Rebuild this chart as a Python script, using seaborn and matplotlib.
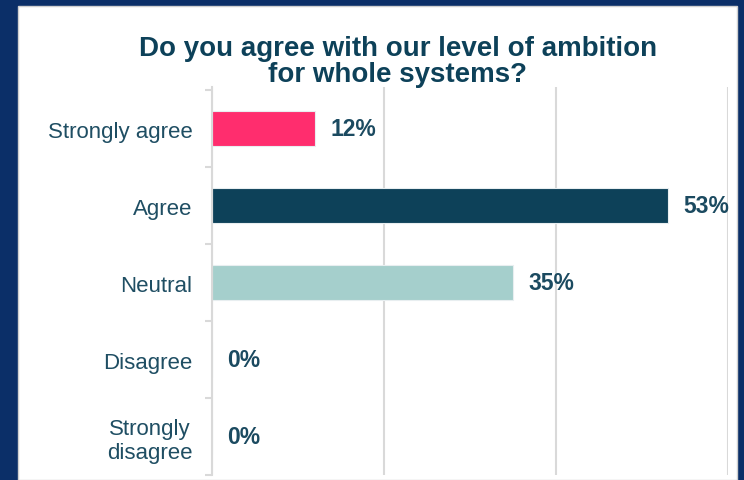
"""Survey response: agreement with level of ambition for whole systems."""

import matplotlib.pyplot as plt
import matplotlib.patches as mpatches
import pandas as pd
import seaborn as sns

categories = ["Strongly agree", "Agree", "Neutral", "Disagree", "Strongly\ndisagree"]
percent = [12, 53, 35, 0, 0]
bar_colors = ["#ff2d6e", "#0d4159", "#a5cfcc", "#a5cfcc", "#a5cfcc"]
title = "Do you agree with our level of ambition\nfor whole systems?"

if __name__ == "__main__":
    sns.set_style("white")
    plt.rcParams["font.family"] = ["Liberation Sans", "DejaVu Sans"]

    df = pd.DataFrame({"answer": categories, "pct": percent})

    fig = plt.figure(figsize=(7.44, 4.81), dpi=100)
    fig.patch.set_facecolor("#0b2f68")
    # white slide panel behind the chart
    fig.patches.append(
        mpatches.Rectangle(
            (18 / 744, 0), (737 - 18) / 744, 1 - 7 / 481,
            transform=fig.transFigure, facecolor="white",
            edgecolor="#d0d0d0", linewidth=1, zorder=-5,
        )
    )

    ax = fig.add_axes([212 / 744, 5 / 481, (728 - 212) / 744, (476 - 88) / 481])
    ax.set_facecolor("none")

    sns.barplot(
        data=df, x="pct", y="answer", hue="answer", palette=bar_colors,
        saturation=1, width=0.45, edgecolor="#e8eef0", linewidth=0.8,
        legend=False, ax=ax,
    )

    ax.set_xlim(0, 60)
    ax.set_xticks([0, 20, 40, 60])
    ax.set_xticklabels([])
    ax.tick_params(axis="x", length=0)
    ax.grid(axis="x", color="#d9d9d9", linewidth=1.5)
    ax.set_axisbelow(True)

    ax.set_yticks(range(len(categories)))
    ax.set_yticklabels(categories, fontsize=16, color="#1f4e63",
                       multialignment="center")
    ax.set_yticks([i - 0.5 for i in range(len(categories) + 1)], minor=True)
    ax.tick_params(axis="y", which="major", left=True, length=0, pad=14)
    ax.tick_params(axis="y", which="minor", left=True, length=5, width=1.5,
                   color="#d9d9d9")
    ax.set_ylim(len(categories) - 0.5, -0.54)
    ax.set_xlabel("")
    ax.set_ylabel("")

    for side in ["top", "right", "bottom"]:
        ax.spines[side].set_visible(False)
    ax.spines["left"].set_color("#d9d9d9")
    ax.spines["left"].set_linewidth(1.5)

    for i, v in enumerate(percent):
        ax.annotate(
            f"{v}%", xy=(v, i), xytext=(11, 0), textcoords="offset points",
            ha="left", va="center", fontsize=16.5, fontweight="bold",
            color="#1b4a60", annotation_clip=False,
        )

    fig.text(398 / 744, 1 - 62 / 481, title, ha="center", va="center",
             fontsize=20, fontweight="bold", color="#0d4159", linespacing=0.95)

    plt.savefig("out.png", dpi=100, facecolor=fig.get_facecolor())
